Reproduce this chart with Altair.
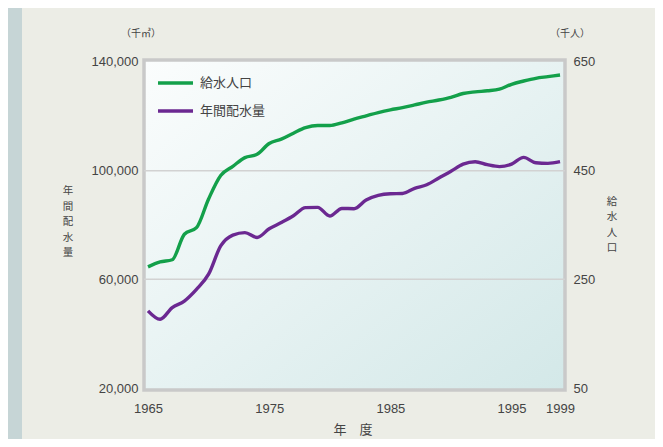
import altair as alt
import pandas as pd

years = list(range(1965, 2000))
# 給水人口 (千人) - right axis
population = [273, 282, 286, 333, 345, 398, 441, 458, 474, 480,
              500, 508, 519, 529, 533, 533, 538, 545, 551, 557,
              562, 566, 571, 576, 580, 585, 592, 595, 597, 600,
              609, 615, 620, 623, 626]
# 年間配水量 (千m3) - left axis
water = [48400, 45300, 49600, 52000, 56300, 61900, 72300, 76300, 77200, 75400,
         78600, 80900, 83400, 86400, 86500, 83300, 86100, 86000, 89200, 90900,
         91500, 91600, 93500, 94800, 97300, 99800, 102400, 103300, 102200, 101500,
         102400, 104900, 102900, 102700, 103300]

left_ticks = [20000, 60000, 100000, 140000]
right_ticks = [50, 250, 450, 650]
x_ticks = [1965, 1975, 1985, 1995, 1999]
grid_values = [60000, 100000]
left_title = "年間配水量"
right_title = "給水人口"

df = pd.DataFrame({"year": years, "population": population, "water": water})
grid_df = pd.DataFrame({"v": grid_values})

W, H = 421, 330
GREEN = "#13a04a"
PURPLE = "#6b2891"
TXT = "#444444"
LATIN = "Liberation Sans"
CJK = "Noto Sans CJK JP"

x_dom = [1964.67, 1999.41]
y_left_dom = [19264, 140736]
y_right_dom = [46.32, 653.68]

one = alt.Data(values=[{}])

x_enc = alt.X("year:Q", scale=alt.Scale(domain=x_dom, nice=False, zero=False),
              axis=alt.Axis(values=x_ticks, format="d", ticks=False, tickSize=0, domain=False,
                            grid=False, labelPadding=12, labelFontSize=13, labelFont=LATIN,
                            labelColor=TXT, title=None, labelFlush=False))

bg = alt.Chart(one).mark_rect(
    fill=alt.Gradient(gradient="linear",
                      stops=[alt.GradientStop(color="#fbfdfd", offset=0),
                             alt.GradientStop(color="#d3e8e8", offset=1)],
                      x1=0, y1=0, x2=1, y2=1),
    stroke="#c9c9c9", strokeWidth=3.5
).encode(x=alt.value(0), x2=alt.value(W), y=alt.value(0), y2=alt.value(H))

strip = alt.Chart(one).mark_rect(fill="#c6d5d6").encode(
    x=alt.value(-136), x2=alt.value(-122), y=alt.value(-52), y2=alt.value(H + 49))

grid = alt.Chart(grid_df).mark_rule(color="#d2d2d2", strokeWidth=1.5).encode(
    y=alt.Y("v:Q", scale=alt.Scale(domain=y_left_dom, nice=False, zero=False), axis=None),
    x=alt.value(0), x2=alt.value(W))

purple = alt.Chart(df).mark_line(color=PURPLE, strokeWidth=3.4, interpolate="monotone").encode(
    x=x_enc,
    y=alt.Y("water:Q", scale=alt.Scale(domain=y_left_dom, nice=False, zero=False),
            axis=alt.Axis(orient="left", values=left_ticks, format=",d", ticks=False, tickSize=0,
                          domain=False, grid=False, labelPadding=6, labelFontSize=13,
                          labelFont=LATIN, labelColor=TXT, title=None)))

green = alt.Chart(df).mark_line(color=GREEN, strokeWidth=3.4, interpolate="monotone").encode(
    x=x_enc,
    y=alt.Y("population:Q", scale=alt.Scale(domain=y_right_dom, nice=False, zero=False),
            axis=alt.Axis(orient="right", values=right_ticks, format="d", ticks=False, tickSize=0,
                          domain=False, grid=False, labelPadding=8, labelFontSize=13,
                          labelFont=LATIN, labelColor=TXT, title=None)))

def txt(s, x, y, size=13, align="center"):
    return alt.Chart(one).mark_text(font=CJK, fontSize=size, color=TXT, align=align,
                                    baseline="middle").encode(
        x=alt.value(x), y=alt.value(y), text=alt.value(s))

leg_g = alt.Chart(one).mark_rule(color=GREEN, strokeWidth=3.5).encode(
    x=alt.value(14), x2=alt.value(49), y=alt.value(23))
leg_p = alt.Chart(one).mark_rule(color=PURPLE, strokeWidth=3.5).encode(
    x=alt.value(14), x2=alt.value(49), y=alt.value(51))

texts = [
    txt("給水人口", 56, 23, align="left"),
    txt("年間配水量", 56, 51, align="left"),
    txt("（千㎥）", -3, -26, size=10),
    txt("（千人）", 426, -26, size=10),
    txt("年　度", 209, 40 + H, size=13),
]
texts += [txt(c, -76, 131 + 15.5 * i, size=10.5) for i, c in enumerate(left_title)]
texts += [txt(c, 468, 141.75 + 15.5 * i, size=10.5) for i, c in enumerate(right_title)]

chart = alt.layer(strip, bg, grid, purple, green, leg_g, leg_p, *texts).resolve_scale(
    y="independent"
).properties(
    width=W, height=H,
    autosize=alt.AutoSizeParams(type="none"),
    padding={"left": 136, "top": 52, "right": 90, "bottom": 49},
    background="#ecede6",
).configure_view(stroke=None)

chart.save("out.html", embed_options={"renderer": "svg", "actions": False})
